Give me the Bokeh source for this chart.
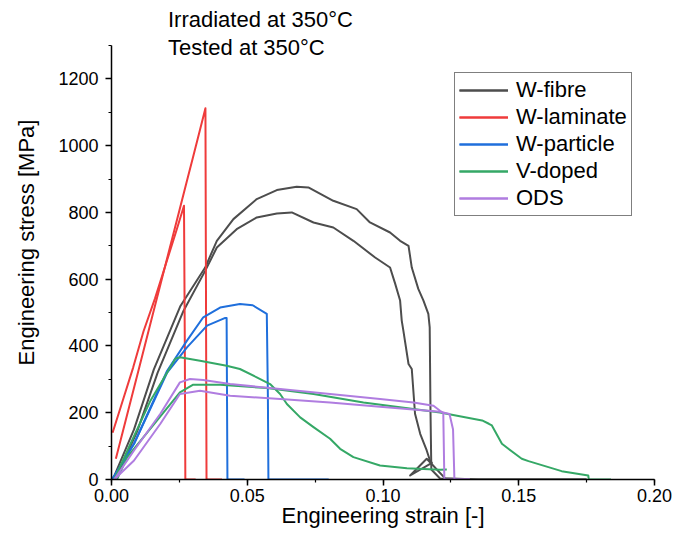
from bokeh.plotting import figure
from bokeh.models import Range1d, Legend, LegendItem, Label, SingleIntervalTicker, NumeralTickFormatter
from bokeh.embed import file_html
from bokeh.resources import INLINE

# ---------------- data (engineering strain [-], engineering stress [MPa]) ----------------
wfibre_a_x = [0, 0.001, 0.0083, 0.0156, 0.0254, 0.0345, 0.0388, 0.0449, 0.0535, 0.0609, 0.0682,
              0.0725, 0.0817, 0.0903, 0.0952, 0.1026, 0.1063, 0.1094, 0.1106, 0.113, 0.1149,
              0.1167, 0.1172, 0.1175, 0.1178, 0.121, 0.13, 0.175]
wfibre_a_y = [0, 10, 150, 330, 520, 635, 715, 780, 840, 867, 877,
              875, 835, 810, 770, 740, 715, 700, 635, 571, 536,
              496, 456, 200, 30, 3, 0, 0]
wfibre_b_x = [0, 0.002, 0.0095, 0.017, 0.0265, 0.0345, 0.0388, 0.0461, 0.0535, 0.0609, 0.0664,
              0.0744, 0.0817, 0.0891, 0.0971, 0.1026, 0.1045, 0.1063, 0.1069, 0.1075, 0.1094,
              0.1106, 0.1118, 0.1137, 0.1161, 0.1173, 0.118, 0.110, 0.1161, 0.1175, 0.1228,
              0.135, 0.175]
wfibre_b_y = [0, 10, 145, 320, 505, 625, 695, 750, 785, 797, 800,
              770, 755, 715, 665, 635, 586, 536, 476, 446, 346,
              331, 197, 137, 87, 57, 50, 12, 62, 50, 4,
              0, 0]

wlam_a_x = [0.0004, 0.0034, 0.008, 0.0118, 0.016, 0.02, 0.024, 0.0267, 0.027, 0.0272, 0.031]
wlam_a_y = [140, 217, 336, 444, 542, 645, 748, 820, 410, 0, 0]
wlam_b_x = [0.0016, 0.005, 0.01, 0.015, 0.02, 0.025, 0.0277, 0.03, 0.0326, 0.0346, 0.0348, 0.035, 0.0407]
wlam_b_y = [62, 170, 329, 488, 647, 806, 892, 965, 1048, 1112, 560, 0, 0]

wpart_a_x = [0.0004, 0.0083, 0.0205, 0.0278, 0.0338, 0.040, 0.0473, 0.052, 0.0572, 0.0576, 0.0578, 0.080]
wpart_a_y = [2, 107, 326, 416, 486, 515, 526, 522, 496, 250, 0, 0]
wpart_b_x = [0.0004, 0.0083, 0.0205, 0.0278, 0.0352, 0.0419, 0.0424, 0.0427, 0.049]
wpart_b_y = [2, 107, 320, 396, 461, 484, 484, 0, 0]

vdop_a_x = [0.001, 0.007, 0.0144, 0.0235, 0.0252, 0.0326, 0.0424, 0.0473, 0.0535, 0.0584,
            0.0621, 0.0646, 0.0695, 0.0744, 0.0805, 0.0842, 0.0891, 0.0989, 0.1088, 0.121, 0.1235]
vdop_a_y = [0, 107, 237, 362, 366, 356, 341, 331, 306, 286,
            256, 226, 186, 157, 122, 92, 67, 42, 34, 29, 30]
vdop_b_x = [0.002, 0.0058, 0.0168, 0.0252, 0.0301, 0.04, 0.0572, 0.0744, 0.0928, 0.1112,
            0.121, 0.1365, 0.139, 0.1401, 0.1438, 0.1511, 0.1536, 0.1658, 0.1756, 0.1758, 0.184]
vdop_b_y = [0, 67, 177, 261, 284, 284, 274, 256, 231, 211,
            201, 177, 167, 162, 107, 62, 55, 25, 12, 0, 0]

ods_a_x = [0.001, 0.0083, 0.018, 0.0252, 0.0289, 0.0338, 0.0437, 0.0621, 0.0805, 0.0989,
           0.1112, 0.1186, 0.121, 0.1222, 0.1226, 0.132]
ods_a_y = [0, 87, 197, 291, 301, 298, 286, 271, 256, 241,
           231, 221, 206, 200, 0, 0]
ods_b_x = [0.001, 0.0083, 0.018, 0.0252, 0.0326, 0.0437, 0.0621, 0.0805, 0.0989, 0.121,
           0.1245, 0.1258, 0.1263, 0.132]
ods_b_y = [0, 57, 167, 256, 266, 251, 241, 231, 218, 203,
           196, 150, 0, 0]

series_names = ["W-fibre", "W-laminate", "W-particle", "V-doped", "ODS"]
series_colors = ["#4d4d4d", "#ef3b3b", "#1f6fdc", "#35a866", "#b07de0"]
annotation_lines = ["Irradiated at 350\u00b0C", "Tested at 350\u00b0C"]

curves = [
    [(wfibre_a_x, wfibre_a_y), (wfibre_b_x, wfibre_b_y)],
    [(wlam_a_x, wlam_a_y), (wlam_b_x, wlam_b_y)],
    [(wpart_a_x, wpart_a_y), (wpart_b_x, wpart_b_y)],
    [(vdop_a_x, vdop_a_y), (vdop_b_x, vdop_b_y)],
    [(ods_a_x, ods_a_y), (ods_b_x, ods_b_y)],
]

FONT = "Liberation Sans"
Y_AXIS_MAX = 1300

# the frame reaches above the axis end so the annotation text is not clipped
p = figure(width=678, height=544, output_backend="svg", toolbar_location=None,
           x_range=Range1d(0, 0.2), y_range=Range1d(0, 1420),
           min_border_left=111, min_border_right=24, min_border_top=5, min_border_bottom=65)
p.outline_line_color = None
p.xgrid.visible = False
p.ygrid.visible = False

items = []
for name, color, pair in zip(series_names, series_colors, curves):
    rs = []
    for xs, ys in pair:
        rs.append(p.line(xs, ys, line_color=color, line_width=2, line_join="round"))
    items.append(LegendItem(label=name, renderers=rs))

p.xaxis.ticker = SingleIntervalTicker(interval=0.05, num_minor_ticks=2)
p.yaxis.ticker = SingleIntervalTicker(interval=200, num_minor_ticks=2)
p.yaxis.bounds = (0, Y_AXIS_MAX)
p.xaxis.formatter = NumeralTickFormatter(format="0.00")
p.xaxis.axis_label = "Engineering strain [-]"
p.yaxis.axis_label = "Engineering stress [MPa]"
for ax in (p.xaxis[0], p.yaxis[0]):
    ax.axis_line_width = 1.5
    ax.axis_line_color = "black"
    ax.major_tick_line_color = "black"
    ax.minor_tick_line_color = "black"
    ax.major_tick_line_width = 1.5
    ax.minor_tick_line_width = 1.2
    ax.major_tick_in = 0
    ax.major_tick_out = 6
    ax.minor_tick_in = 0
    ax.minor_tick_out = 3
    ax.major_label_text_font = FONT
    ax.major_label_text_font_size = "18px"
    ax.major_label_text_color = "black"
    ax.axis_label_text_font = FONT
    ax.axis_label_text_font_size = "22px"
    ax.axis_label_text_font_style = "normal"
    ax.axis_label_text_color = "black"
p.yaxis.major_label_standoff = 7
p.xaxis.major_label_standoff = 3
p.yaxis.axis_label_standoff = 16
p.xaxis.axis_label_standoff = -2

legend = Legend(items=items, location=(343, 263))
legend.label_text_font = FONT
legend.label_text_font_size = "22px"
legend.label_text_color = "black"
legend.glyph_width = 49
legend.glyph_height = 20
legend.label_height = 20
legend.label_standoff = 8
legend.spacing = 1
legend.padding = 4
legend.margin = 0
legend.border_line_color = "black"
legend.border_line_width = 1
legend.background_fill_alpha = 1
p.add_layout(legend)

for txt, yv in zip(annotation_lines, [1378, 1294]):
    p.add_layout(Label(x=0.0208, y=yv, text=txt,
                       text_font=FONT, text_font_size="22px",
                       text_baseline="alphabetic", text_color="black"))

open("out.html", "w").write(file_html(p, INLINE))
